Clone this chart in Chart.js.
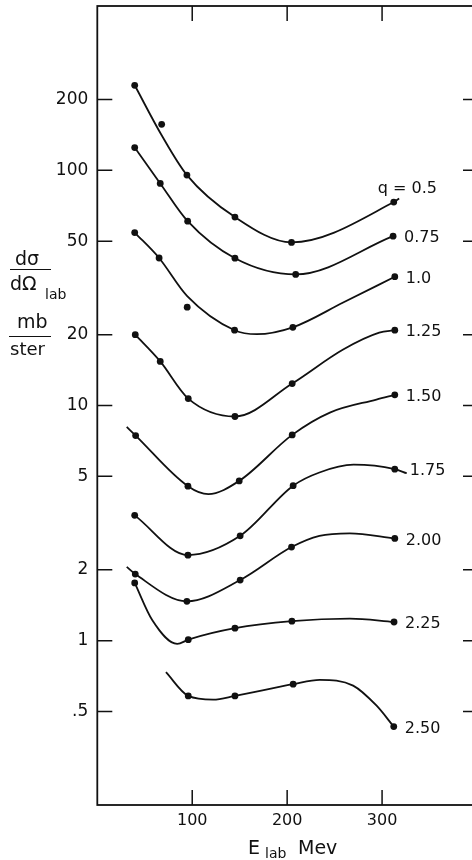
<!DOCTYPE html>
<html>
<head>
  <title>d sigma / d Omega vs E lab</title>
  <style>
    body {
      margin: 0;
      background: #ffffff;
      overflow: hidden;
      font-family: "DejaVu Sans", sans-serif;
      color: #111;
    }
    .chart-container {
      position: absolute;
      left: 0;
      top: 0;
      width: 490px;
      height: 860px;
    }
    .lbl {
      position: absolute;
      white-space: nowrap;
      line-height: 1;
    }
    .frac-line {
      position: absolute;
      height: 0;
      border-top: 1.5px solid #111;
    }
  </style>
</head>
<body>
  <div class="chart-container">
    <canvas id="xsecChart" width="490" height="860"></canvas>
  </div>

  <!-- y axis title: d sigma / d Omega lab, mb / ster -->
  <div class="lbl" style="left:15px; top:249px; font-size:19px;">d&sigma;</div>
  <div class="frac-line" style="left:10px; top:269px; width:41px;"></div>
  <div class="lbl" style="left:10px; top:274px; font-size:19px;">d&Omega;</div>
  <div class="lbl" style="left:45px; top:287px; font-size:14px;">lab</div>
  <div class="lbl" style="left:17px; top:312px; font-size:19px;">mb</div>
  <div class="frac-line" style="left:9px; top:336px; width:42px;"></div>
  <div class="lbl" style="left:10px; top:340px; font-size:18px;">ster</div>

  <!-- x axis title -->
  <div class="lbl" style="left:248px; top:838px; font-size:19px;">E</div>
  <div class="lbl" style="left:265px; top:846px; font-size:14px;">lab</div>
  <div class="lbl" style="left:298px; top:838px; font-size:19px;">Mev</div>

  <script src="https://cdn.jsdelivr.net/npm/chart.js"></script>
  <script>
    // ticks
    const xTicks = [100, 200, 300];
    const yTicks = [200, 100, 50, 20, 10, 5, 2, 1, 0.5];
    const yTickLabels = ['200', '100', '50', '20', '10', '5', '2', '1', '.5'];

    // curve labels (q values)
    const qLabels = ['q = 0.5', '0.75', '1.0', '1.25', '1.50', '1.75', '2.00', '2.25', '2.50'];

    // measured points [E_lab, dsigma/dOmega]
    const pts050 = [[39.4, 230], [67.8, 157], [94.4, 95.5], [145, 63.3], [204.6, 49.4], [312.3, 73.3]];
    const pts075 = [[39.4, 125], [66.3, 88], [95.2, 60.8], [145, 42.3], [209, 36.1], [311.6, 52.5]];
    const pts100 = [[39.4, 54.4], [65.1, 42.4], [94.7, 26.2], [144.6, 20.9], [206, 21.5], [313.4, 35.3]];
    const pts125 = [[40, 20.0], [66.3, 15.4], [95.8, 10.7], [145, 8.98], [205.3, 12.4], [313.4, 20.9]];
    const pts150 = [[40.4, 7.45], [95.5, 4.54], [149.5, 4.78], [205.3, 7.5], [313.4, 11.1]];
    const pts175 = [[39.4, 3.41], [95.5, 2.31], [150.5, 2.79], [206.3, 4.56], [313.4, 5.36]];
    const pts200 = [[40, 1.92], [94.4, 1.47], [150.5, 1.81], [204.6, 2.50], [313.4, 2.72]];
    const pts225 = [[39.4, 1.76], [95.8, 1.01], [145, 1.13], [205, 1.21], [312.6, 1.20]];
    const pts250 = [[95.8, 0.582], [145, 0.582], [206.3, 0.653], [312.3, 0.431]];

    // hand drawn curves
    const crv050 = [[39.4, 230], [67.8, 141], [94.4, 95.5], [145, 63.3], [204.6, 49.4], [312.3, 73.3], [318, 75.9]];
    const crv075 = [[39.4, 125], [66.3, 88], [95.2, 60.8], [145, 42.3], [209, 36.1], [311.6, 52.5]];
    const crv100 = [[39.4, 54.4], [65.1, 42.4], [94.7, 29.2], [144.6, 20.9], [168, 20.1], [206, 21.5], [259, 27.4], [313.4, 35.3]];
    const crv125 = [[40, 20.0], [66.3, 15.4], [95.8, 10.7], [145, 8.98], [205.3, 12.4], [259, 17.3], [297, 20.4], [313.4, 20.9]];
    const crv150 = [[31, 8.11], [40.4, 7.45], [95.5, 4.54], [117, 4.2], [149.5, 4.78], [205.3, 7.5], [245, 9.33], [294, 10.6], [313.4, 11.1]];
    const crv175 = [[39.4, 3.41], [95.5, 2.31], [150.5, 2.79], [206.3, 4.56], [234, 5.19], [270, 5.6], [313.4, 5.36], [326, 5.15]];
    const crv200 = [[31, 2.06], [40, 1.92], [94.4, 1.47], [150.5, 1.81], [204.6, 2.50], [234, 2.79], [266, 2.86], [313.4, 2.72]];
    const crv225 = [[39.4, 1.76], [58, 1.22], [84.2, 0.968], [95.8, 1.01], [145, 1.13], [205, 1.21], [266, 1.24], [312.6, 1.20]];
    const crv250 = [[72.3, 0.734], [95.8, 0.582], [122, 0.561], [145, 0.582], [206.3, 0.653], [234.4, 0.681], [269.5, 0.644], [294, 0.53], [312.3, 0.431]];

    const allPts = [pts050, pts075, pts100, pts125, pts150, pts175, pts200, pts225, pts250];
    const allCrv = [crv050, crv075, crv100, crv125, crv150, crv175, crv200, crv225, crv250];

    const toXY = arr => arr.map(p => ({x: p[0], y: p[1]}));

    const datasets = [];
    allCrv.forEach(c => {
      datasets.push({
        data: toXY(c),
        showLine: true,
        borderColor: '#111',
        borderWidth: 1.8,
        pointRadius: 0,
        cubicInterpolationMode: 'monotone'
      });
    });
    allPts.forEach(p => {
      datasets.push({
        data: toXY(p),
        showLine: false,
        pointRadius: 3.4,
        pointBackgroundColor: '#111',
        pointBorderWidth: 0
      });
    });

    // frame, inward ticks and q labels
    const frameTicks = {
      id: 'frameTicks',
      afterDraw(chart) {
        const {ctx, chartArea: a, scales: {x, y}} = chart;
        ctx.save();
        ctx.strokeStyle = '#111';
        ctx.lineWidth = 1.8;
        ctx.strokeRect(a.left, a.top, a.right - a.left, a.bottom - a.top);
        ctx.lineWidth = 1.5;
        ctx.beginPath();
        xTicks.forEach(v => {
          const px = x.getPixelForValue(v);
          ctx.moveTo(px, a.bottom); ctx.lineTo(px, a.bottom - 15);
          ctx.moveTo(px, a.top); ctx.lineTo(px, a.top + 15);
        });
        yTicks.forEach(v => {
          const py = y.getPixelForValue(v);
          ctx.moveTo(a.left, py); ctx.lineTo(a.left + 15, py);
          ctx.moveTo(a.right, py); ctx.lineTo(a.right - 14, py);
        });
        ctx.stroke();

        ctx.fillStyle = '#111';
        ctx.font = '16px "DejaVu Sans"';
        ctx.textBaseline = 'middle';
        ctx.textAlign = 'left';
        allPts.forEach((p, i) => {
          const last = p[p.length - 1];
          let px = x.getPixelForValue(last[0]) + 11;
          let py = y.getPixelForValue(last[1]) + 2;
          if (i === 0) { px -= 27; py -= 15; }
          if (i === 5) { px += 4; }
          ctx.fillText(qLabels[i], px, py);
        });
        ctx.restore();
      }
    };

    const noPad = s => { s.paddingTop = 0; s.paddingBottom = 0; s.paddingLeft = 0; s.paddingRight = 0; };

    new Chart(document.getElementById('xsecChart').getContext('2d'), {
      type: 'scatter',
      data: {datasets: datasets},
      options: {
        responsive: false,
        animation: false,
        layout: {padding: {top: 6, right: 13, bottom: 0, left: 0}},
        plugins: {legend: {display: false}, tooltip: {enabled: false}},
        scales: {
          x: {
            type: 'linear',
            min: 0,
            max: 400,
            afterBuildTicks: s => { s.ticks = xTicks.map(v => ({value: v})); },
            afterFit: s => { s.height = 55; noPad(s); },
            grid: {display: false, drawTicks: false},
            border: {display: false},
            ticks: {
              color: '#111',
              padding: 6,
              maxRotation: 0,
              font: {family: 'DejaVu Sans', size: 16}
            }
          },
          y: {
            type: 'logarithmic',
            min: 0.2,
            max: 500,
            afterBuildTicks: s => { s.ticks = yTicks.map(v => ({value: v})); },
            afterFit: s => { s.width = 97.3; noPad(s); },
            grid: {display: false, drawTicks: false},
            border: {display: false},
            ticks: {
              color: '#111',
              padding: 9,
              font: {family: 'DejaVu Sans', size: 17},
              callback: (v, i) => yTickLabels[i]
            }
          }
        }
      },
      plugins: [frameTicks]
    });
  </script>
</body>
</html>
